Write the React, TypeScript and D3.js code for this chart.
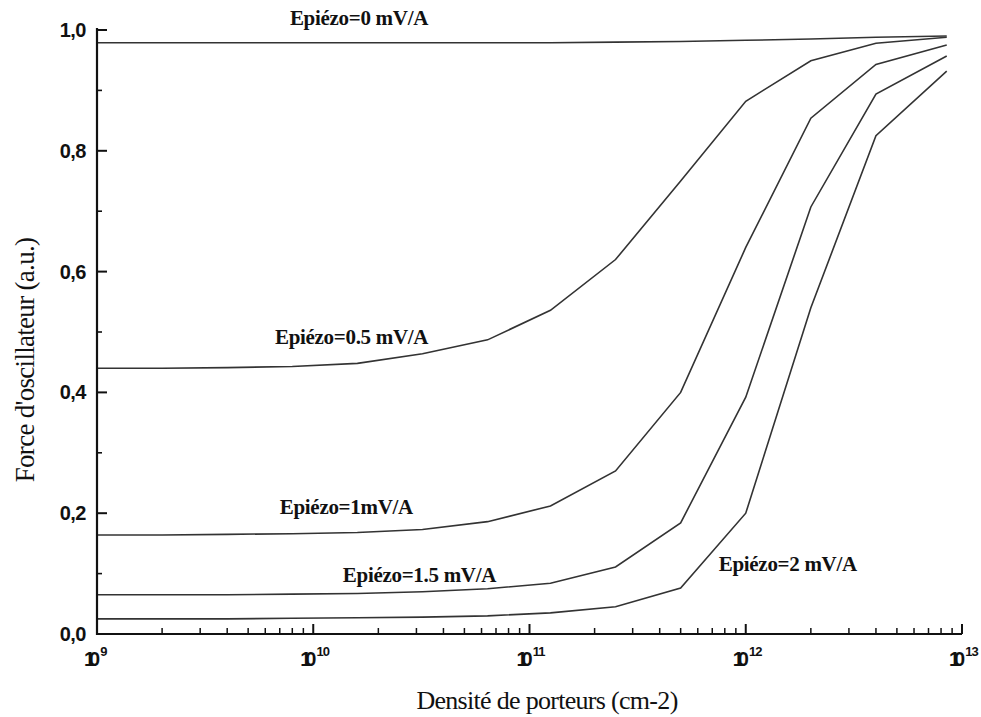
import React from "react";
import * as d3 from "d3";

const densities = [1e9, 2e9, 4e9, 8e9, 1.6e10, 3.2e10, 6.4e10, 1.25e11, 2.5e11, 5e11, 1e12, 2e12, 4e12, 8.5e12];
const series0 = [0.979, 0.979, 0.979, 0.979, 0.979, 0.979, 0.979, 0.979, 0.98, 0.981, 0.983, 0.985, 0.988, 0.99];
const series05 = [0.44, 0.44, 0.441, 0.443, 0.448, 0.464, 0.487, 0.536, 0.62, 0.75, 0.882, 0.949, 0.978, 0.988];
const series1 = [0.164, 0.164, 0.165, 0.166, 0.168, 0.173, 0.186, 0.212, 0.27, 0.4, 0.64, 0.854, 0.943, 0.975];
const series15 = [0.065, 0.065, 0.065, 0.066, 0.067, 0.07, 0.075, 0.084, 0.111, 0.184, 0.392, 0.707, 0.894, 0.957];
const series2 = [0.025, 0.025, 0.025, 0.026, 0.027, 0.028, 0.03, 0.035, 0.045, 0.076, 0.2, 0.54, 0.825, 0.932];
const seriesList = [series0, series05, series1, series15, series2];
const seriesLabels = ["Epiézo=0 mV/A", "Epiézo=0.5 mV/A", "Epiézo=1mV/A", "Epiézo=1.5 mV/A", "Epiézo=2 mV/A"];
// label anchors in data coordinates (density, force)
const labelDensity = [7.8e9, 6.65e9, 7.0e9, 1.37e10, 7.5e11];
const labelForce = [1.008, 0.48, 0.199, 0.086, 0.104];
const yTicks = [0, 0.2, 0.4, 0.6, 0.8, 1.0];
const yTickLabels = ["0,0", "0,2", "0,4", "0,6", "0,8", "1,0"];
const xExponents = [9, 10, 11, 12, 13];

const W = 981;
const H = 717;
const x0 = 97;
const x1 = 962;
const yB = 634;
const yT = 30;

export default function App() {
  const x = d3.scaleLog().domain([1e9, 1e13]).range([x0, x1]);
  const y = d3.scaleLinear().domain([0, 1]).range([yB, yT]);
  const line = d3
    .line<[number, number]>()
    .x((d) => x(d[0]))
    .y((d) => y(d[1]));

  const minorX: number[] = [];
  for (let e = 9; e < 13; e++) {
    for (let k = 2; k <= 9; k++) minorX.push(k * Math.pow(10, e));
  }
  const minorY = [0.1, 0.3, 0.5, 0.7, 0.9];

  const serif = "'Liberation Serif', 'Times New Roman', serif";
  const sans = "'Liberation Sans', Arial, sans-serif";

  return (
    <svg width={W} height={H} style={{ position: "absolute", left: 0, top: 0, background: "#fff" }}>
      <rect width={W} height={H} fill="#fff" />
      {seriesList.map((s, i) => (
        <path
          key={i}
          d={line(densities.map((d, j) => [d, s[j]] as [number, number])) || ""}
          fill="none"
          stroke="#333"
          strokeWidth={1.6}
        />
      ))}
      {/* axes */}
      <line x1={x0} x2={x0} y1={yT - 2} y2={yB + 1} stroke="#111" strokeWidth={2.2} />
      <line x1={x0 - 1} x2={x1} y1={yB} y2={yB} stroke="#111" strokeWidth={2.2} />
      {yTicks.map((t, i) => (
        <g key={"yt" + i}>
          <line x1={x0} x2={x0 + 10} y1={y(t)} y2={y(t)} stroke="#111" strokeWidth={2} />
          <text
            x={86}
            y={y(t) + 7}
            textAnchor="end"
            fontFamily={sans}
            fontWeight={700}
            fontSize={20}
            letterSpacing={-0.5}
            fill="#111"
          >
            {yTickLabels[i]}
          </text>
        </g>
      ))}
      {minorY.map((t, i) => (
        <line key={"ym" + i} x1={x0} x2={x0 + 5} y1={y(t)} y2={y(t)} stroke="#111" strokeWidth={1.6} />
      ))}
      {xExponents.map((e, i) => (
        <g key={"xt" + i}>
          <line x1={x(Math.pow(10, e))} x2={x(Math.pow(10, e))} y1={yB} y2={yB - 10} stroke="#111" strokeWidth={2} />
          <text
            x={x(Math.pow(10, e)) - 13}
            y={yB + 32}
            textAnchor="start"
            fontFamily={sans}
            fontWeight={700}
            fontSize={20}
            letterSpacing={-6}
            fill="#111"
          >
            10
            <tspan dx={6} dy={-10} fontSize={13} letterSpacing={-1}>
              {e}
            </tspan>
          </text>
        </g>
      ))}
      {minorX.map((v, i) => (
        <line key={"xm" + i} x1={x(v)} x2={x(v)} y1={yB} y2={yB - 6} stroke="#111" strokeWidth={1.5} />
      ))}
      {/* series labels */}
      {seriesLabels.map((lab, i) => (
        <text
          key={"sl" + i}
          x={x(labelDensity[i])}
          y={y(labelForce[i])}
          fontFamily={serif}
          fontWeight={700}
          fontSize={21}
          letterSpacing={-0.3}
          fill="#111"
        >
          {lab}
        </text>
      ))}
      {/* axis titles */}
      <text
        x={547}
        y={709}
        textAnchor="middle"
        fontFamily={serif}
        fontSize={26}
        letterSpacing={-0.7}
        fill="#111"
      >
        Densité de porteurs (cm-2)
      </text>
      <text
        transform="translate(34,360) rotate(-90)"
        textAnchor="middle"
        fontFamily={serif}
        fontSize={27}
        letterSpacing={-0.7}
        fill="#111"
      >
        Force d'oscillateur (a.u.)
      </text>
    </svg>
  );
}
